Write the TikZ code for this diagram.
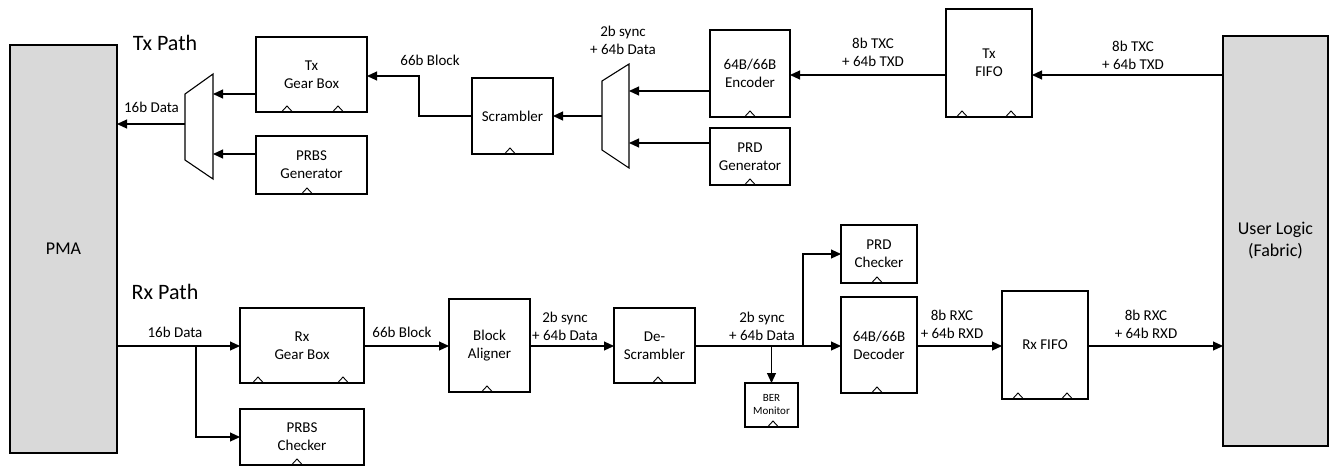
\documentclass[tikz,border=0pt]{standalone}
\usepackage{fontspec}
\setmainfont{Carlito}
\usetikzlibrary{arrows.meta,calc}
\definecolor{boxgray}{HTML}{D9D9D9}
\begin{document}
\begin{tikzpicture}[x=1pt,y=-1pt,
  blk/.style={draw,line width=1.1pt,inner sep=0pt,outer sep=0pt,align=center,font=\fontsize{15}{18}\selectfont},
  bigbox/.style={blk,fill=boxgray,font=\fontsize{18}{22}\selectfont},
  lbl/.style={align=center,inner sep=0pt,font=\fontsize{15}{18}\selectfont},
  title/.style={inner sep=0pt,font=\fontsize{22}{26}\selectfont},
  wire/.style={line width=1.1pt},
  arr/.style={line width=1.1pt,-{Triangle[length=10pt,width=9pt]}},
  clk/.pic={\draw[line width=0.9pt] (-5.5,0) -- (0,-6) -- (5.5,0);}
]
\useasboundingbox (0,0) rectangle (1330,466);

% big blocks
\node[bigbox,minimum width=107pt,minimum height=408pt] (pma) at (63.5,249) {PMA};
\node[bigbox,minimum width=105pt,minimum height=410pt] (ul) at (1275.5,241) {User Logic\\(Fabric)};

% titles
\node[title] (txp) at (165,43) {Tx Path};
\node[title] (rxp) at (165,292) {Rx Path};

% Tx blocks
\node[blk,minimum width=111pt,minimum height=75pt] (txgb) at (311.5,74.5) {Tx\\Gear Box};
\node[blk,minimum width=111pt,minimum height=58pt] (prbsg) at (311.5,165) {PRBS\\Generator};
\node[blk,minimum width=81pt,minimum height=76pt] (scr) at (512.5,116) {Scrambler};
\node[blk,minimum width=80pt,minimum height=87pt] (enc) at (750,73.5) {64B/66B\\Encoder};
\node[blk,minimum width=80pt,minimum height=57pt] (prdg) at (750,156.5) {PRD\\Generator};
\node[blk,minimum width=86pt,minimum height=108pt] (txf) at (989,63) {Tx\\FIFO};

% Rx blocks
\node[blk,minimum width=124pt,minimum height=75pt] (rxgb) at (302,345.5) {Rx\\Gear Box};
\node[blk,minimum width=124pt,minimum height=56pt] (prbsc) at (302,437) {PRBS\\Checker};
\node[blk,minimum width=81pt,minimum height=93pt] (ba) at (489.5,345.5) {Block\\Aligner};
\node[blk,minimum width=81pt,minimum height=75pt] (ds) at (654.5,345.5) {De-\\Scrambler};
\node[blk,minimum width=53pt,minimum height=44pt,font=\fontsize{11}{13}\selectfont] (ber) at (771.5,405) {BER\\Monitor};
\node[blk,minimum width=76pt,minimum height=58pt] (prdc) at (879,254) {PRD\\Checker};
\node[blk,minimum width=76pt,minimum height=96pt] (dec) at (879,345) {64B/66B\\Decoder};
\node[blk,minimum width=86pt,minimum height=108pt] (rxf) at (1045,345) {Rx FIFO};

% clock marks
\foreach \cx/\cy in {287/112,338/112,307/194,510/154,750/117,750/185,962/117,1011/117,
  258/383,343/383,297/465,487/392,658/383,773/427,877/283,877/393,1018/399,1067/399}
  \pic at (\cx,\cy) {clk};

% muxes
\draw[wire] (185,94) -- (213,74) -- (213,179) -- (185,160) -- cycle;
\coordinate (m1a) at (213,94);
\coordinate (m1b) at (213,154);
\coordinate (m1o) at (185,124);
\draw[wire] (602,81) -- (629,64) -- (629,168) -- (602,150) -- cycle;
\coordinate (m2a) at (629,91);
\coordinate (m2b) at (629,143);
\coordinate (m2o) at (602,116);

% Tx connectors
\draw[arr] (txgb.west |- m1a) -- (m1a);
\draw[arr] (prbsg.west |- m1b) -- (m1b);
\draw[arr] (m1o) -- (pma.east |- m1o);
\node[lbl] (l16t) at (151.5,107) {16b Data};

\coordinate (k66) at (419,76);
\draw[arr] (scr.west) -| (k66) -- (txgb.east |- k66);
\node[lbl] (l66t) at (430,60) {66b Block};

\draw[arr] (m2o) -- (scr.east);
\draw[arr] (enc.west |- m2a) -- (m2a);
\draw[arr] (prdg.west |- m2b) -- (m2b);
\node[lbl] (lsynct) at (623,40) {2b sync\\+ 64b Data};

\coordinate (t75) at (900,75);
\draw[arr] (txf.west |- t75) -- (enc.east |- t75);
\node[lbl] (ltxc1) at (873,52) {8b TXC\\+ 64b TXD};
\draw[arr] (ul.west |- t75) -- (txf.east |- t75);
\node[lbl] (ltxc2) at (1133,55) {8b TXC\\+ 64b TXD};

% Rx connectors
\coordinate (r16) at (196,346);
\draw[arr] (pma.east |- r16) -- (rxgb.west |- r16);
\draw[arr] (r16) |- (prbsc.west);
\node[lbl] (l16r) at (175,332) {16b Data};
\draw[arr] (rxgb.east |- r16) -- (ba.west |- r16);
\node[lbl] (l66r) at (402,332) {66b Block};
\draw[arr] (ba.east |- r16) -- (ds.west |- r16);
\node[lbl] (lsyncr1) at (565,326) {2b sync\\+ 64b Data};
\coordinate (jb) at (771.5,346);
\coordinate (jp) at (803,346);
\draw[arr] (ds.east |- r16) -- (dec.west |- r16);
\draw[arr] (jb) -- (ber.north);
\draw[arr] (jp) |- (prdc.west);
\node[lbl] (lsyncr2) at (762,326) {2b sync\\+ 64b Data};
\draw[arr] (dec.east |- r16) -- (rxf.west |- r16);
\node[lbl] (lrxc1) at (952,324) {8b RXC\\+ 64b RXD};
\draw[arr] (rxf.east |- r16) -- (ul.west |- r16);
\node[lbl] (lrxc2) at (1146,324) {8b RXC\\+ 64b RXD};
\end{tikzpicture}
\end{document}
